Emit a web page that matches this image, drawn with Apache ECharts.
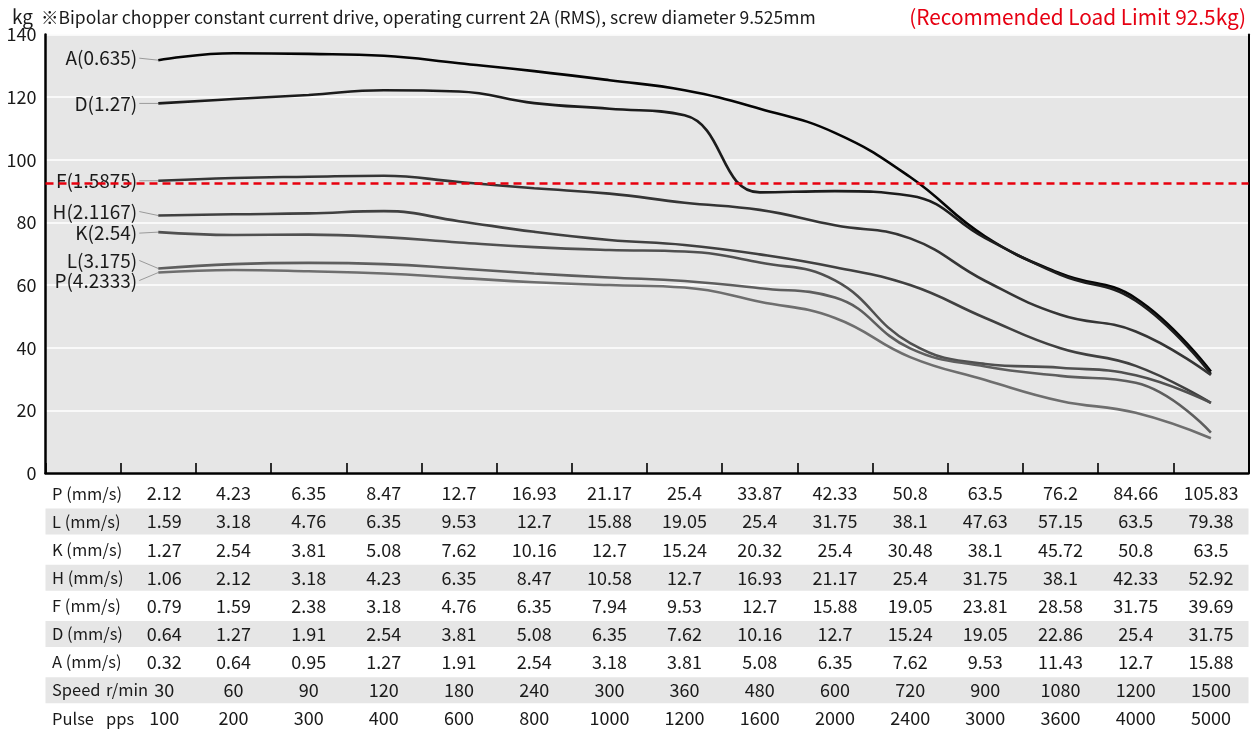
<!DOCTYPE html>
<html>
<head>
<meta charset="utf-8">
<title>Load - speed characteristics</title>
<style>
  html, body { margin: 0; padding: 0; background: #ffffff; }
  #chart { width: 1255px; height: 731px; }
</style>
<script src="https://cdn.jsdelivr.net/npm/echarts@6/dist/echarts.min.js"></script>
</head>
<body>
<div id="chart"></div>
<script>
// ---- data -------------------------------------------------------------
// column 0 of the category axis is kept empty: it holds the row titles
const pulsePps   = ['100', '200', '300', '400', '600', '800', '1000', '1200', '1600', '2000', '2400', '3000', '3600', '4000', '5000'];
const speedRpm   = ['30', '60', '90', '120', '180', '240', '300', '360', '480', '600', '720', '900', '1080', '1200', '1500'];
const speedP     = ['2.12', '4.23', '6.35', '8.47', '12.7', '16.93', '21.17', '25.4', '33.87', '42.33', '50.8', '63.5', '76.2', '84.66', '105.83'];
const speedL     = ['1.59', '3.18', '4.76', '6.35', '9.53', '12.7', '15.88', '19.05', '25.4', '31.75', '38.1', '47.63', '57.15', '63.5', '79.38'];
const speedK     = ['1.27', '2.54', '3.81', '5.08', '7.62', '10.16', '12.7', '15.24', '20.32', '25.4', '30.48', '38.1', '45.72', '50.8', '63.5'];
const speedH     = ['1.06', '2.12', '3.18', '4.23', '6.35', '8.47', '10.58', '12.7', '16.93', '21.17', '25.4', '31.75', '38.1', '42.33', '52.92'];
const speedF     = ['0.79', '1.59', '2.38', '3.18', '4.76', '6.35', '7.94', '9.53', '12.7', '15.88', '19.05', '23.81', '28.58', '31.75', '39.69'];
const speedD     = ['0.64', '1.27', '1.91', '2.54', '3.81', '5.08', '6.35', '7.62', '10.16', '12.7', '15.24', '19.05', '22.86', '25.4', '31.75'];
const speedA     = ['0.32', '0.64', '0.95', '1.27', '1.91', '2.54', '3.18', '3.81', '5.08', '6.35', '7.62', '9.53', '11.43', '12.7', '15.88'];

// load (kg) per lead, one value per speed step
const loadA = [131.8, 134.0, 133.8, 133.2, 130.8, 128.3, 125.4, 122.2, 116.3, 108.6, 94.5, 75.5, 63.7, 55.8, 32.4];
const loadD = [118.0, 119.4, 120.7, 122.2, 121.8, 118.1, 116.3, 114.2, 89.6, 90.0, 88.5, 75.0, 63.3, 55.0, 31.6];
const loadF = [93.3, 94.2, 94.6, 94.9, 92.9, 90.9, 89.2, 86.3, 84.0, 79.1, 74.9, 61.3, 50.5, 45.2, 31.3];
const loadH = [82.2, 82.6, 82.9, 83.6, 80.4, 77.0, 74.4, 72.8, 69.8, 65.7, 60.0, 49.5, 39.8, 34.2, 22.4];
const loadK = [76.9, 76.0, 76.1, 75.3, 73.6, 72.1, 71.2, 70.7, 67.2, 61.5, 41.5, 34.8, 33.6, 31.2, 22.4];
const loadL = [65.3, 66.7, 67.1, 66.7, 65.3, 63.7, 62.4, 61.3, 59.0, 56.0, 39.8, 34.0, 31.0, 28.8, 12.9];
const loadP = [64.0, 64.8, 64.4, 63.7, 62.3, 60.9, 60.0, 59.2, 54.7, 49.5, 37.0, 29.7, 23.0, 19.2, 11.1];

const leadNames  = ['A(0.635)', 'D(1.27)', 'F(1.5875)', 'H(2.1167)', 'K(2.54)', 'L(3.175)', 'P(4.2333)'];
const loadLimit  = 92.5;
const yTicks     = { min: 0, max: 140, interval: 20 };

const titleText  = '※Bipolar chopper constant current drive, operating current 2A (RMS), screw diameter 9.525mm';
const limitText  = '(Recommended Load Limit 92.5kg)';

const tableRows = [
  { name: 'P (mm/s)', unit: '',      values: speedP },
  { name: 'L (mm/s)', unit: '',      values: speedL },
  { name: 'K (mm/s)', unit: '',      values: speedK },
  { name: 'H (mm/s)', unit: '',      values: speedH },
  { name: 'F (mm/s)', unit: '',      values: speedF },
  { name: 'D (mm/s)', unit: '',      values: speedD },
  { name: 'A (mm/s)', unit: '',      values: speedA },
  { name: 'Speed',    unit: 'r/min', values: speedRpm },
  { name: 'Pulse',    unit: 'pps',   values: pulsePps }
];

// ---- styling ----------------------------------------------------------
const FONT = '"Noto Sans CJK JP", "Noto Sans", sans-serif';
const TEXT = '#1a1a1a';
const TABLE_FONT_SIZE = 18;
const ROW_TITLE_FONT_SIZE = 16.5;
const curves = [
  { name: leadNames[0], values: loadA, color: '#050505', labelDy: -2 },
  { name: leadNames[1], values: loadD, color: '#1c1c1c', labelDy: 0 },
  { name: leadNames[2], values: loadF, color: '#353535', labelDy: 0 },
  { name: leadNames[3], values: loadH, color: '#404040', labelDy: -4 },
  { name: leadNames[4], values: loadK, color: '#505050', labelDy: 1 },
  { name: leadNames[5], values: loadL, color: '#5e5e5e', labelDy: -8 },
  { name: leadNames[6], values: loadP, color: '#6e6e6e', labelDy: 8 }
];

const GRID = { left: 45.5, right: 6.5, top: 34.5, bottom: 258 };
const ROW_FIRST = 20.5;   // distance from the x axis line to the first table row centre
const ROW_PITCH = 28.1;
const ROW_BAND  = 26;
const ROW_TITLE_X = 52;
const UNIT_X = 106;

const categories = [''].concat(pulsePps);

const chart = echarts.init(document.getElementById('chart'), null, { renderer: 'canvas' });

const xAxes = [{
  type: 'category',
  data: categories,
  boundaryGap: true,
  position: 'bottom',
  axisLine: { show: true, lineStyle: { color: '#000', width: 2.5 } },
  axisTick: { show: true, inside: true, length: 10, lineStyle: { color: '#000', width: 1.6 } },
  axisLabel: { show: false },
  splitLine: { show: false }
}];

const tableText = { fontFamily: FONT, fontSize: TABLE_FONT_SIZE, color: TEXT };

// one category axis per table row, its labels are the row values
tableRows.forEach((row, i) => {
  xAxes.push({
    type: 'category',
    data: [''].concat(row.values),
    boundaryGap: true,
    position: 'bottom',
    offset: ROW_FIRST + ROW_PITCH * i,
    axisLine: { show: false },
    axisTick: { show: false },
    splitLine: { show: false },
    axisLabel: Object.assign({
      show: true, interval: 0, margin: 0, verticalAlign: 'middle',
      // the first value column sits a little clear of the row title
      formatter: (val, idx) => (idx === 1 ? '{first|' + val + '}' : val),
      rich: { first: Object.assign({ padding: [0, 0, 0, 12] }, tableText) }
    }, tableText)
  });
});

const series = curves.map(c => ({
  name: c.name,
  type: 'line',
  xAxisIndex: 0,
  yAxisIndex: 0,
  smooth: 0.45,
  showSymbol: false,
  symbol: 'none',
  silent: true,
  lineStyle: { color: c.color, width: 2.6 },
  data: c.values.map((v, i) => [i + 1, v])
}));

// recommended load limit
series.push({
  name: 'limit',
  type: 'line',
  data: [],
  z: 5,
  silent: true,
  markLine: {
    silent: true,
    symbol: 'none',
    label: { show: false },
    lineStyle: { color: '#e8000e', type: [8, 5], width: 2.6 },
    data: [{ yAxis: loadLimit }]
  }
});

const option = {
  animation: false,
  backgroundColor: '#ffffff',
  textStyle: { fontFamily: FONT },
  title: [
    { text: 'kg', left: 12, top: 7, padding: 0, textStyle: { fontFamily: FONT, fontSize: 19, fontWeight: 'normal', color: TEXT } },
    { text: titleText, left: 41, top: 8.5, padding: 0, textStyle: { fontFamily: FONT, fontSize: 17.5, fontWeight: 'normal', color: TEXT } },
    { text: limitText, right: 9, top: 6.5, padding: 0, textStyle: { fontFamily: FONT, fontSize: 20.8, fontWeight: 'normal', color: '#e60012' } }
  ],
  grid: {
    left: GRID.left, right: GRID.right, top: GRID.top, bottom: GRID.bottom,
    show: true, backgroundColor: '#e6e6e6', borderWidth: 0, containLabel: false
  },
  xAxis: xAxes,
  yAxis: [{
    type: 'value',
    min: yTicks.min, max: yTicks.max, interval: yTicks.interval,
    axisLine: { show: true, lineStyle: { color: '#000', width: 2.5 } },
    axisTick: { show: false },
    axisLabel: { margin: 9, fontFamily: FONT, fontSize: 18, color: TEXT },
    splitLine: { show: true, lineStyle: { color: '#ffffff', width: 1.5 } }
  }, {
    type: 'value',
    position: 'right',
    min: yTicks.min, max: yTicks.max, interval: yTicks.interval,
    axisLine: { show: true, lineStyle: { color: '#000', width: 2 } },
    axisTick: { show: false },
    axisLabel: { show: false },
    splitLine: { show: false }
  }],
  series: series
};

chart.setOption(option);

// shaded table rows, row titles and the lead labels at the start of each curve
const graphics = [];
const axisY = chart.convertToPixel({ yAxisIndex: 0 }, 0);
tableRows.forEach((row, i) => {
  const cy = axisY + ROW_FIRST + ROW_PITCH * i;
  if (i % 2 === 1) {
    graphics.push({
      type: 'rect', z: -1, silent: true,
      shape: { x: GRID.left, y: cy - ROW_BAND / 2, width: chart.getWidth() - GRID.left - GRID.right, height: ROW_BAND },
      style: { fill: '#e6e6e6' }
    });
  }
  graphics.push({
    type: 'text', z: 1, silent: true,
    style: { text: row.name, x: ROW_TITLE_X, y: cy, align: 'left', verticalAlign: 'middle',
             fontFamily: FONT, fontSize: ROW_TITLE_FONT_SIZE, fill: TEXT }
  });
  if (row.unit) {
    graphics.push({
      type: 'text', z: 1, silent: true,
      style: { text: row.unit, x: UNIT_X, y: cy, align: 'left', verticalAlign: 'middle',
               fontFamily: FONT, fontSize: ROW_TITLE_FONT_SIZE, fill: TEXT }
    });
  }
});

curves.forEach(c => {
  const p = chart.convertToPixel({ xAxisIndex: 0, yAxisIndex: 0 }, [1, c.values[0]]);
  const ly = p[1] + c.labelDy;
  graphics.push({
    type: 'line', z: 1, silent: true,
    shape: { x1: p[0] - 19, y1: ly, x2: p[0], y2: p[1] },
    style: { stroke: '#9a9a9a', lineWidth: 1 }
  });
  graphics.push({
    type: 'text', z: 1, silent: true,
    style: {
      text: c.name, x: p[0] - 21, y: ly,
      align: 'right', verticalAlign: 'middle',
      fontFamily: FONT, fontSize: 19, fill: TEXT
    }
  });
});

chart.setOption({ graphic: graphics });
</script>
</body>
</html>
